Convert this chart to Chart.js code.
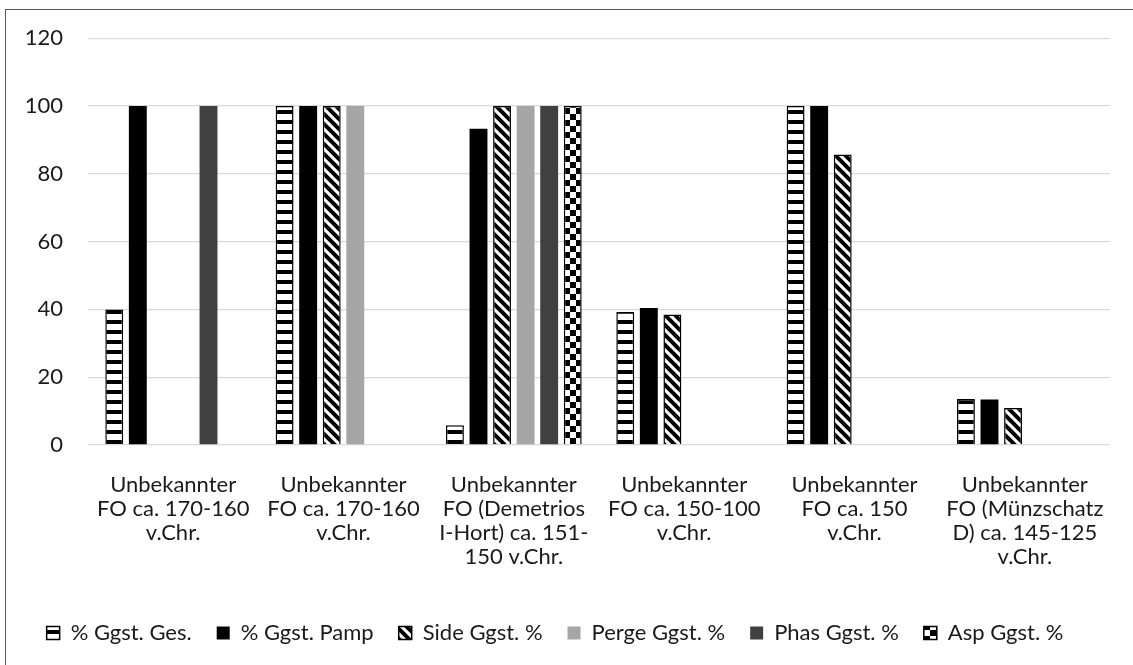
<!DOCTYPE html>
<html>
<head>
<meta charset="utf-8">
<script src="https://cdn.jsdelivr.net/npm/chart.js@4/dist/chart.umd.min.js"></script>
<style>
    html, body { margin: 0; padding: 0; background: #fff; overflow: hidden; }
    #wrap { position: relative; width: 1133px; height: 665px; }
    #frame { position: absolute; left: 5px; top: 9px; width: 1140px; height: 670px; border: 1px solid #595959; box-sizing: border-box; }
    #chart { position: absolute; left: 0; top: 0; }
</style>
</head>
<body>
<div id="wrap">
    <div id="frame"></div>
    <canvas id="chart" width="1133" height="665"></canvas>
</div>
<script>
// --- Data ---
const categories = [
    ['Unbekannter', 'FO ca. 170-160', 'v.Chr.'],
    ['Unbekannter', 'FO ca. 170-160', 'v.Chr.'],
    ['Unbekannter', 'FO (Demetrios', 'I-Hort) ca. 151-', '150 v.Chr.'],
    ['Unbekannter', 'FO ca. 150-100', 'v.Chr.'],
    ['Unbekannter', 'FO ca. 150', 'v.Chr.'],
    ['Unbekannter', 'FO (Münzschatz', 'D) ca. 145-125', 'v.Chr.']
];
const seriesNames = ['% Ggst. Ges.', '% Ggst. Pamp', 'Side Ggst. %', 'Perge Ggst. %', 'Phas Ggst. %', 'Asp Ggst. %'];
const gesValues   = [40, 100, 5.8, 39.2, 100, 13.6];
const pampValues  = [100, 100, 93.3, 40.4, 100, 13.4];
const sideValues  = [null, 100, 100, 38.5, 85.7, 10.9];
const pergeValues = [null, 100, 100, null, null, null];
const phasValues  = [100, null, 100, null, null, null];
const aspValues   = [null, null, 100, null, null, null];
const yTicks = [0, 20, 40, 60, 80, 100, 120];

const fontFamily = 'Lato, "Noto Sans", sans-serif';
const textColor = '#1a1a1a';
const gridColor = '#d9d9d9';

// --- Fill patterns ---
function makePattern(w, h, draw) {
    const c = document.createElement('canvas');
    c.width = w; c.height = h;
    const g = c.getContext('2d');
    g.fillStyle = '#fff';
    g.fillRect(0, 0, w, h);
    g.fillStyle = '#000';
    g.strokeStyle = '#000';
    draw(g);
    return document.getElementById('chart').getContext('2d').createPattern(c, 'repeat');
}

// horizontal stripes
const stripeH = makePattern(10, 10, g => { g.fillRect(0, 0, 10, 4); });
// diagonal stripes (top-left to bottom-right)
const stripeD = makePattern(10, 10, g => {
    g.lineWidth = 4;
    g.beginPath();
    g.moveTo(-2, -2); g.lineTo(12, 12);
    g.moveTo(-12, -2); g.lineTo(2, 12);
    g.moveTo(8, -2); g.lineTo(22, 12);
    g.stroke();
});
// checkerboard
const checker = makePattern(12, 12, g => { g.fillRect(0, 0, 6, 6); g.fillRect(6, 6, 6, 6); });

function ds(i, data, fill, border, bw) {
    return {
        label: seriesNames[i],
        data: data,
        backgroundColor: fill,
        borderColor: border,
        borderWidth: bw,
    };
}

new Chart(document.getElementById('chart').getContext('2d'), {
    type: 'bar',
    data: {
        labels: categories,
        datasets: [
            ds(0, gesValues, stripeH, '#000', 1.5),
            ds(1, pampValues, '#000', '#000', 0),
            ds(2, sideValues, stripeD, '#000', 1.5),
            ds(3, pergeValues, '#a6a6a6', '#a6a6a6', 0),
            ds(4, phasValues, '#404040', '#404040', 0),
            ds(5, aspValues, checker, '#000', 1.5),
        ]
    },
    options: {
        responsive: false,
        animation: false,
        categoryPercentage: 0.83,
        barPercentage: 0.76,
        layout: { padding: { top: 37, right: 23, bottom: 11, left: 0 } },
        plugins: {
            legend: {
                position: 'bottom',
                labels: {
                    font: { family: fontFamily, size: 22 },
                    color: textColor,
                    boxWidth: 13,
                    boxHeight: 13,
                    padding: 25,
                }
            },
            tooltip: { enabled: false }
        },
        scales: {
            x: {
                grid: { display: false },
                border: { display: false },
                ticks: {
                    font: { family: fontFamily, size: 22, lineHeight: 1.09 },
                    color: textColor,
                    maxRotation: 0,
                    autoSkip: false,
                    padding: 20,
                },
                afterFit: function (scale) { scale.height = 152; }
            },
            y: {
                min: 0,
                max: 120,
                afterBuildTicks: function (scale) { scale.ticks = yTicks.map(v => ({ value: v })); },
                grid: { color: gridColor, lineWidth: 1.3, drawTicks: false },
                border: { display: false },
                ticks: {
                    font: { family: fontFamily, size: 22 },
                    color: textColor,
                    padding: 25,
                },
                afterFit: function (scale) { scale.width = 88; }
            }
        }
    }
});
</script>
</body>
</html>
